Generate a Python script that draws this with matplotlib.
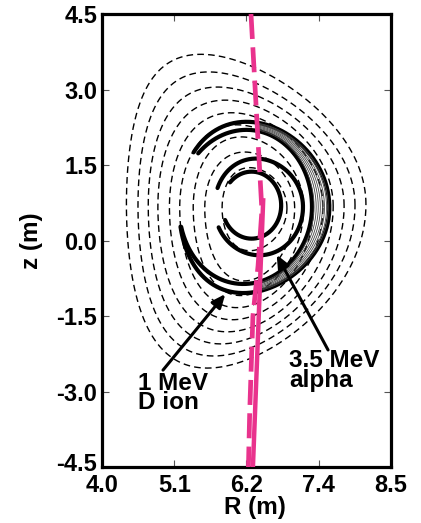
import numpy as np
import matplotlib
matplotlib.use("Agg")
import matplotlib.pyplot as plt
from matplotlib.transforms import ScaledTranslation

plt.rcParams['font.family'] = ['Liberation Sans', 'DejaVu Sans']
plt.rcParams['font.weight'] = 'bold'
plt.rcParams['axes.unicode_minus'] = False
plt.rcParams['lines.scale_dashes'] = False

# ---------------- data ----------------
# Flux surfaces (outer -> inner)
surf_R_in  = [4.38, 4.56, 4.72, 4.87, 5.05, 5.21, 5.42, 5.60, 5.87]
surf_R_out = [8.11, 7.94, 7.77, 7.60, 7.44, 7.29, 7.14, 7.00, 6.88]
surf_Z_top = [3.70, 3.35, 3.05, 2.79, 2.54, 2.30, 2.06, 1.76, 1.45]
surf_Z_bot = [-2.53, -2.29, -2.05, -1.81, -1.57, -1.33, -1.09, -0.80, -0.20]
surf_R_top = [5.54, 5.66, 5.80, 5.92, 6.02, 6.10, 6.17, 6.22, 6.30]
surf_R_bot = [5.64, 5.74, 5.85, 5.95, 6.03, 6.10, 6.16, 6.21, 6.30]
surf_Z_mid = [0.72, 0.70, 0.69, 0.68, 0.67, 0.66, 0.66, 0.65, 0.65]

# Orbit arcs: alpha inner C, alpha outer C, D ion outer, D ion inner
orb_R_in   = [5.87, 5.75, 5.20, 5.20]
orb_R_out  = [6.79, 7.13, 7.54, 7.27]
orb_Z_top  = [1.37, 1.63, 2.36, 2.20]
orb_Z_bot  = [0.04, -0.29, -1.04, -0.86]
orb_R_top  = [6.33, 6.40, 6.25, 6.25]
orb_R_bot  = [6.33, 6.45, 6.20, 6.20]
orb_Z_mid  = [0.70, 0.67, 0.66, 0.67]
orb_th0    = [-154, -155, -167, -165]   # degrees
orb_th1    = [137, 157, 140, 136]

# thin traces spreading between the two D-ion arcs on the outboard side
band_frac = [0.12, 0.24, 0.36, 0.48, 0.6, 0.72, 0.84, 0.94]
band_th0, band_th1 = -80, 80

# Line of sight (pink)
los_dash_R = [6.32, 6.49, 6.43, 6.35, 6.30, 6.28]
los_dash_Z = [4.5, 0.6, -0.5, -1.5, -3.4, -4.5]
los_solid_R = [6.51, 6.35]
los_solid_Z = [0.8, -4.5]

x_ticks = [4.0, 5.125, 6.25, 7.375, 8.5]
x_ticklabels = ['4.0', '5.1', '6.2', '7.4', '8.5']
y_ticks = [-4.5, -3.0, -1.5, 0.0, 1.5, 3.0, 4.5]
y_ticklabels = ['-4.5', '-3.0', '-1.5', '0.0', '1.5', '3.0', '4.5']

labels = ['1 MeV\nD ion', '3.5 MeV\nalpha']
label_pos = [(4.56, -2.60), (6.91, -2.16)]
arrow_tail = [(4.95, -2.57), (7.52, -2.17)]
arrow_tip = [(5.92, -1.06), (6.72, -0.28)]

PINK = '#E9338D'
FS = 17.5
FS_TICK = 17


def shape(R_in, R_out, Z_top, Z_bot, R_top, R_bot, Z_mid, th):
    R0 = 0.5 * (R_in + R_out)
    a = 0.5 * (R_out - R_in)
    s = np.sin(th)
    d = np.where(s >= 0, np.arcsin(np.clip((R0 - R_top) / a, -1, 1)),
                 np.arcsin(np.clip((R0 - R_bot) / a, -1, 1)))
    k = np.where(s >= 0, Z_top - Z_mid, Z_mid - Z_bot)
    return R0 + a * np.cos(th + d * s), Z_mid + k * s


fig = plt.figure(figsize=(4.21, 5.23), dpi=100)
ax = fig.add_axes([0.2423, 0.1065, 0.6864, 0.8667])

th_full = np.linspace(0, 2 * np.pi, 600)
for i in range(len(surf_R_in)):
    R, Z = shape(surf_R_in[i], surf_R_out[i], surf_Z_top[i], surf_Z_bot[i],
                 surf_R_top[i], surf_R_bot[i], surf_Z_mid[i], th_full)
    ax.plot(R, Z, color='black', lw=1.0, dashes=(4.8, 3.0), zorder=2)

for i in range(len(orb_R_in)):
    th = np.radians(np.linspace(orb_th0[i], orb_th1[i], 400))
    R, Z = shape(orb_R_in[i], orb_R_out[i], orb_Z_top[i], orb_Z_bot[i],
                 orb_R_top[i], orb_R_bot[i], orb_Z_mid[i], th)
    ax.plot(R, Z, color='black', lw=3.0, solid_capstyle='round', zorder=3)

# spread band between D-ion arcs (outboard)
th = np.radians(np.linspace(band_th0, band_th1, 300))
for f in band_frac:
    p = [orb_R_in[3] + f * (orb_R_in[2] - orb_R_in[3]),
         orb_R_out[3] + f * (orb_R_out[2] - orb_R_out[3]),
         orb_Z_top[3] + f * (orb_Z_top[2] - orb_Z_top[3]),
         orb_Z_bot[3] + f * (orb_Z_bot[2] - orb_Z_bot[3]),
         orb_R_top[3] + f * (orb_R_top[2] - orb_R_top[3]),
         orb_R_bot[3] + f * (orb_R_bot[2] - orb_R_bot[3]),
         orb_Z_mid[3] + f * (orb_Z_mid[2] - orb_Z_mid[3])]
    R, Z = shape(*p, th)
    ax.plot(R, Z, color='#444444', lw=0.6, zorder=3)

ax.plot(los_dash_R, los_dash_Z, color=PINK, lw=3.4, dashes=(18, 6), zorder=5)
ax.plot(los_solid_R, los_solid_Z, color=PINK, lw=3.2, zorder=5)

for txt, (x, y) in zip(labels, label_pos):
    ax.text(x, y, txt, fontsize=FS, fontweight='bold', ha='left', va='top',
            linespacing=0.8, zorder=6)
for (tx, ty), (hx, hy) in zip(arrow_tail, arrow_tip):
    ax.annotate('', xy=(hx, hy), xytext=(tx, ty),
                arrowprops=dict(arrowstyle='-|>,head_length=0.8,head_width=0.35',
                                lw=2.2, color='black', shrinkA=0, shrinkB=0),
                zorder=6)

ax.set_xlim(4.0, 8.5)
ax.set_ylim(-4.5, 4.5)
ax.set_xticks(x_ticks)
ax.set_xticklabels(x_ticklabels)
ax.set_yticks(y_ticks)
ax.set_yticklabels(y_ticklabels)
ax.tick_params(direction='in', top=True, right=True, length=5, width=0.8,
               color='#555555', labelsize=FS_TICK)
ax.tick_params(axis='x', pad=4.5)
ax.tick_params(axis='y', pad=3.5)
for lab in ax.get_xticklabels() + ax.get_yticklabels():
    lab.set_fontweight('bold')
for sp in ax.spines.values():
    sp.set_linewidth(2.3)

# lift the lowest y tick label slightly so it clears the x tick labels
lowest = ax.yaxis.get_major_ticks()[0].label1
lowest.set_transform(lowest.get_transform() +
                     ScaledTranslation(0, 3.5 / 72, fig.dpi_scale_trans))

ax.set_xlabel('R (m)', fontsize=FS, fontweight='bold')
ax.set_ylabel('z (m)', fontsize=FS, fontweight='bold')
ax.xaxis.set_label_coords(0.529, -0.063)
ax.yaxis.set_label_coords(-0.205, 0.5)

fig.savefig('out.png', dpi=100)
